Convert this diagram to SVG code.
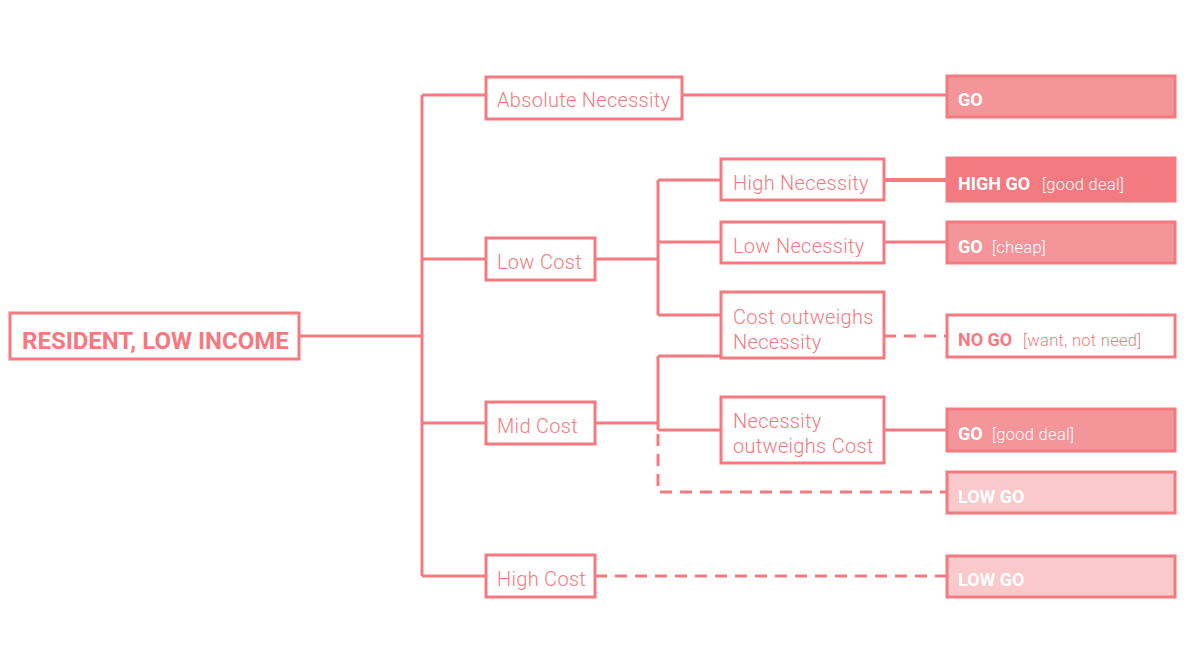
<svg xmlns="http://www.w3.org/2000/svg" width="1188" height="668" viewBox="0 0 1188 668">
<style>
.ln{stroke:#f47a80;stroke-width:3;fill:none}
.ds{stroke:#f47a80;stroke-width:3;fill:none;stroke-dasharray:12 8}
.box{fill:#fff;stroke:#f47a80;stroke-width:3}
.go{fill:#f4959a;stroke:#f47a80;stroke-width:3}
.hgo{fill:#f37a80;stroke:#f47a80;stroke-width:3}
.lgo{fill:#f9c9cb;stroke:#f47a80;stroke-width:3}
text{font-family:Roboto,"Liberation Sans",sans-serif}
.t{fill:#f47a80;font-size:20px;font-weight:300;letter-spacing:0.3px}
.tb{fill:#f47a80;font-size:24px;font-weight:bold}
.w{fill:#fff;font-size:18px;font-weight:bold}
.ws{fill:#fff;font-size:16.5px;font-weight:300;letter-spacing:0.3px}
.p{fill:#f47a80;font-size:18px;font-weight:bold}
.ps{fill:#f47a80;font-size:16.5px;font-weight:300;letter-spacing:0.3px}
</style>
<g id="connectors">
<path class="ln" d="M299 336H422M422 95V576M422 95H486M422 259H486M422 423H486M422 576H486"/>
<path class="ln" d="M682 95H947"/>
<path class="ln" d="M595 259H658M658 180V315M658 180H721M658 242H721M658 315H721"/>
<path class="ln" d="M884 180H947" style="stroke-width:4"/>
<path class="ln" d="M884 242H947"/>
<path class="ds" d="M884 336H947"/>
<path class="ln" d="M595 423H658M658 356V430M658 356H721M658 430H721M884 430H947"/>
<path class="ds" d="M658 434V492H947"/>
<path class="ds" d="M595 576H947"/>
</g>
<g id="root"><rect class="box" x="10" y="313" width="289" height="46"/><text class="tb" x="22" y="349">RESIDENT, LOW INCOME</text></g>
<g id="absolute"><rect class="box" x="486" y="77" width="196" height="42"/><text class="t" x="497" y="107">Absolute Necessity</text></g>
<g id="lowcost"><rect class="box" x="486" y="238" width="109" height="42"/><text class="t" x="497" y="269">Low Cost</text></g>
<g id="midcost"><rect class="box" x="486" y="402" width="109" height="42"/><text class="t" x="497" y="433">Mid Cost</text></g>
<g id="highcost"><rect class="box" x="486" y="555" width="109" height="42"/><text class="t" x="497" y="586">High Cost</text></g>
<g id="highnec"><rect class="box" x="721" y="159" width="163" height="41"/><text class="t" x="733" y="190">High Necessity</text></g>
<g id="lownec"><rect class="box" x="721" y="222" width="163" height="41"/><text class="t" x="733" y="253">Low Necessity</text></g>
<g id="costout"><rect class="box" x="721" y="292" width="163" height="66"/><text class="t" x="733" y="324">Cost outweighs</text><text class="t" x="733" y="349">Necessity</text></g>
<g id="necout"><rect class="box" x="721" y="397" width="163" height="66"/><text class="t" x="733" y="428">Necessity</text><text class="t" x="733" y="453">outweighs Cost</text></g>
<g id="go1"><rect class="go" x="947" y="76" width="228" height="41"/><text class="w" x="958" y="106">GO</text></g>
<g id="highgo"><rect class="hgo" x="947" y="158" width="228" height="43"/><text class="w" x="958" y="190">HIGH GO</text><text class="ws" x="1042" y="190">[good deal]</text></g>
<g id="go2"><rect class="go" x="947" y="222" width="228" height="41"/><text class="w" x="958" y="253">GO</text><text class="ws" x="992" y="253">[cheap]</text></g>
<g id="nogo"><rect class="box" x="947" y="315" width="228" height="42"/><text class="p" x="958" y="346">NO GO</text><text class="ps" x="1023" y="346">[want, not need]</text></g>
<g id="go3"><rect class="go" x="947" y="409" width="228" height="42"/><text class="w" x="958" y="440">GO</text><text class="ws" x="992" y="440">[good deal]</text></g>
<g id="lowgo1"><rect class="lgo" x="947" y="472" width="228" height="41"/><text class="w" x="958" y="503">LOW GO</text></g>
<g id="lowgo2"><rect class="lgo" x="947" y="556" width="228" height="41"/><text class="w" x="958" y="586">LOW GO</text></g>
</svg>
